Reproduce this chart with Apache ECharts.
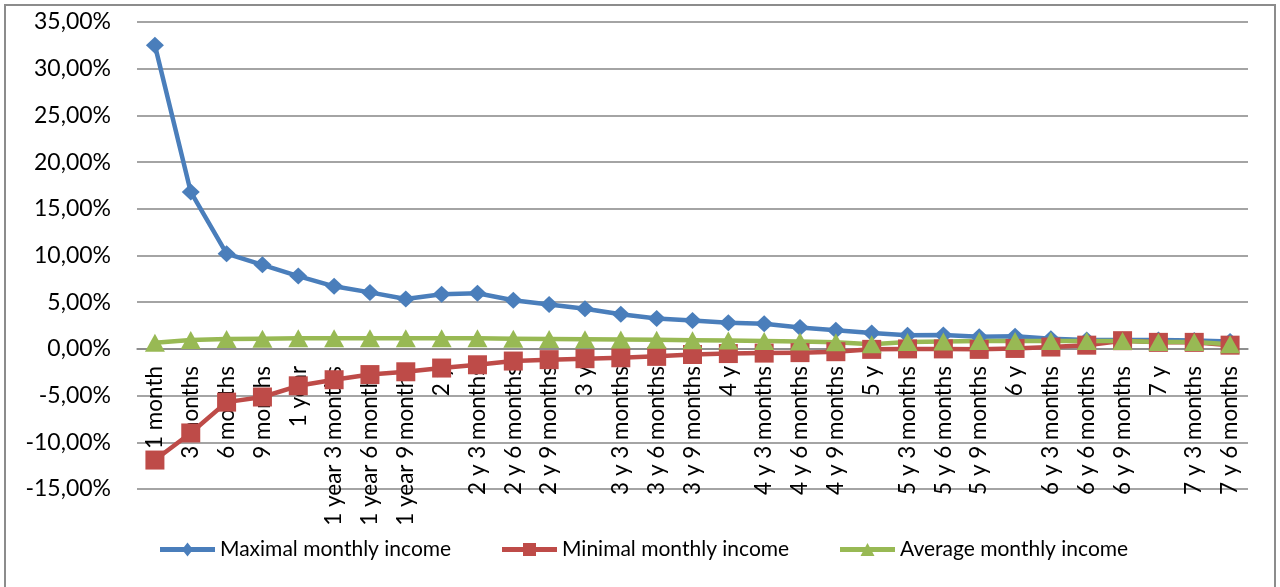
<!DOCTYPE html>
<html><head><meta charset="utf-8">
<script src="https://cdn.jsdelivr.net/npm/echarts@6/dist/echarts.min.js"></script>
<style>html,body{margin:0;padding:0;background:#fff}#c{width:1280px;height:587px}</style>
</head><body><div id="c"></div>
<script>
const categories = ['1 month','3 months','6 months','9 months','1 year','1 year 3 months','1 year 6 months','1 year 9 months','2 y','2 y 3 months','2 y 6 months','2 y 9 months','3 y','3 y 3 months','3 y 6 months','3 y 9 months','4 y','4 y 3 months','4 y 6 months','4 y 9 months','5 y','5 y 3 months','5 y 6 months','5 y 9 months','6 y','6 y 3 months','6 y 6 months','6 y 9 months','7 y','7 y 3 months','7 y 6 months'];
const maxIncome = [32.5, 16.8, 10.2, 9.0, 7.8, 6.7, 6.05, 5.35, 5.85, 5.95, 5.2, 4.75, 4.3, 3.7, 3.25, 3.05, 2.8, 2.7, 2.3, 2.0, 1.7, 1.45, 1.5, 1.3, 1.35, 1.1, 0.95, 0.95, 0.95, 0.9, 0.8];
const minIncome = [-11.9, -9.0, -5.7, -5.15, -3.95, -3.3, -2.75, -2.45, -2.05, -1.7, -1.3, -1.15, -1.05, -0.95, -0.8, -0.6, -0.5, -0.45, -0.4, -0.3, -0.05, 0.0, 0.0, -0.05, 0.05, 0.2, 0.4, 0.88, 0.7, 0.7, 0.4];
const avgIncome = [0.65, 0.95, 1.05, 1.1, 1.15, 1.15, 1.15, 1.15, 1.15, 1.15, 1.1, 1.07, 1.03, 1.0, 0.97, 0.93, 0.9, 0.85, 0.8, 0.72, 0.5, 0.75, 0.8, 0.85, 0.85, 0.85, 0.85, 0.85, 0.75, 0.75, 0.5];
const seriesNames = ['Maximal monthly income', 'Minimal monthly income', 'Average monthly income'];
const yMin = -15, yMax = 35, yStep = 5;

const FONT = 'Lato';
const colors = ['#4A7EBB', '#BE4B48', '#98B954'];
const chart = echarts.init(document.getElementById('c'), null, {renderer: 'canvas'});
const gridTop = 22, gridBottom = 98, height = 587;
const plotH = height - gridTop - gridBottom;
const zeroOffset = -plotH * (0 - yMin) / (yMax - yMin);
// legend icons: thick line with marker in the middle (55 x 14 box)
const bar = 'M0,4.5 L55,4.5 L55,9.5 L0,9.5 Z ';
const legendIcons = [
  'path://' + bar + 'M27.5,0 L33,7 L27.5,14 L22,7 Z',
  'path://' + bar + 'M21,0.5 L34,0.5 L34,13.5 L21,13.5 Z',
  'path://' + bar + 'M27.5,0.5 L34.5,13.5 L20.5,13.5 Z'
];
const legendCommon = {
  top: 539, padding: 0, itemWidth: 55, itemHeight: 14, itemGap: 0,
  textStyle: {fontFamily: FONT, fontSize: 21, color: '#000'}
};
chart.setOption({
  animation: false,
  color: colors,
  graphic: [{type: 'rect', silent: true, shape: {x: 5, y: 5, width: 1270, height: 620},
    style: {fill: 'none', stroke: '#8c8c8c', lineWidth: 2}}],
  grid: {left: 137, right: 32, top: gridTop, bottom: gridBottom, containLabel: false, outerBoundsMode: 'none'},
  legend: [
    Object.assign({left: 160, data: [{name: seriesNames[0], icon: legendIcons[0]}]}, legendCommon),
    Object.assign({left: 502, data: [{name: seriesNames[1], icon: legendIcons[1]}]}, legendCommon),
    Object.assign({left: 840, data: [{name: seriesNames[2], icon: legendIcons[2]}]}, legendCommon)
  ],
  xAxis: {
    type: 'category', data: categories, boundaryGap: true, position: 'bottom', offset: zeroOffset,
    axisLine: {onZero: false, lineStyle: {color: '#868686', width: 1.5}},
    axisTick: {show: false},
    axisLabel: {rotate: 90, interval: 0, margin: 17, fontFamily: FONT, fontSize: 22.5, color: '#000'}
  },
  yAxis: {
    type: 'value', min: yMin, max: yMax, interval: yStep,
    axisLine: {show: false}, axisTick: {show: false},
    splitLine: {lineStyle: {color: '#868686', width: 1.5}},
    axisLabel: {margin: 26, fontFamily: FONT, fontSize: 23, color: '#000',
      formatter: v => v.toFixed(2).replace('.', ',') + '%'}
  },
  series: [
    {name: seriesNames[0], type: 'line', data: maxIncome, symbol: 'diamond', symbolSize: [18, 17],
      lineStyle: {width: 4.5, color: colors[0], cap: 'round', join: 'round'}, itemStyle: {color: colors[0]}},
    {name: seriesNames[1], type: 'line', data: minIncome, symbol: 'rect', symbolSize: 19,
      lineStyle: {width: 4.5, color: colors[1], cap: 'round', join: 'round'}, itemStyle: {color: colors[1]}},
    {name: seriesNames[2], type: 'line', data: avgIncome, symbol: 'triangle', symbolSize: [20, 18],
      lineStyle: {width: 4.5, color: colors[2], cap: 'round', join: 'round'}, itemStyle: {color: colors[2]}}
  ]
});
</script></body></html>
